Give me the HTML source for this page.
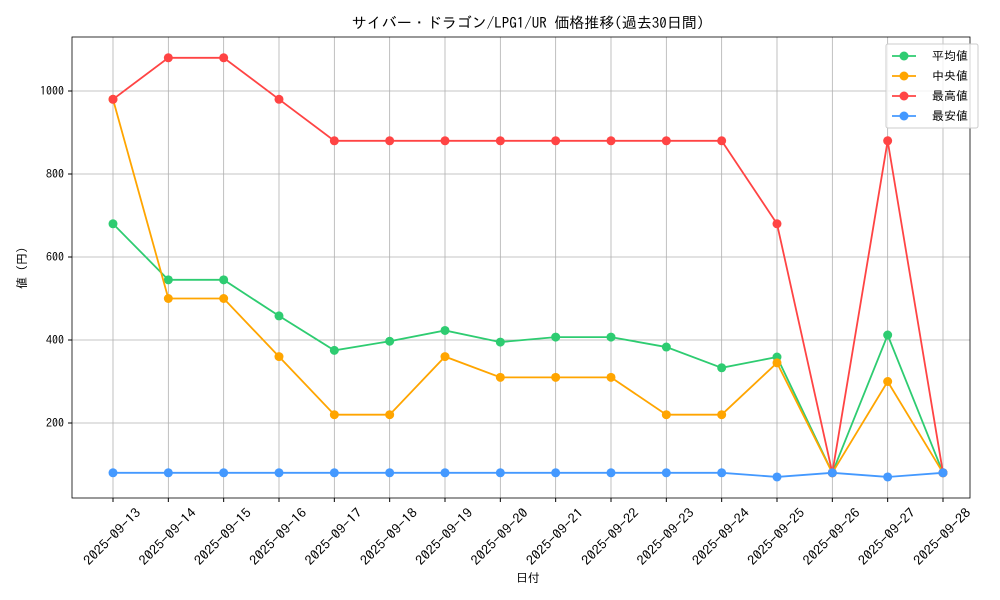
<!DOCTYPE html>
<html><head><meta charset="utf-8"><style>
html,body{margin:0;padding:0;background:#fff;}
svg{display:block;font-family:"IPAGothic","Liberation Sans",sans-serif;}
</style></head><body>
<svg width="1000" height="600" viewBox="0 0 1000 600" xmlns="http://www.w3.org/2000/svg">
<rect width="1000" height="600" fill="#fff"/>
<text x="528" y="28" font-size="15" text-anchor="middle" fill="#000">サイバー・ドラゴン/LPG1/UR 価格推移(過去30日間)</text>
<g id="grid" stroke="#b0b0b0" stroke-width="0.8"></g>
<rect x="72" y="37" width="898" height="461" fill="none" stroke="#000" stroke-width="0.8"/>
<g id="ticks" font-size="12" fill="#000"></g>
<text x="528" y="582" font-size="12" text-anchor="middle">日付</text>
<text x="26" y="268" font-size="12" text-anchor="middle" transform="rotate(-90 26 268)">値 (円)</text>
<g id="series"></g>
<g font-size="12">
<rect x="886" y="44" width="92" height="84" fill="#fff" fill-opacity="0.8" stroke="#ccc" rx="2"/>
<line x1="892" y1="56" x2="916" y2="56" stroke="#2ecc71" stroke-width="1.8"/><circle cx="904" cy="56" r="4.5" fill="#2ecc71"/><text x="932" y="60">平均値</text>
<line x1="892" y1="76" x2="916" y2="76" stroke="#ffa500" stroke-width="1.8"/><circle cx="904" cy="76" r="4.5" fill="#ffa500"/><text x="932" y="80">中央値</text>
<line x1="892" y1="96" x2="916" y2="96" stroke="#ff4444" stroke-width="1.8"/><circle cx="904" cy="96" r="4.5" fill="#ff4444"/><text x="932" y="100">最高値</text>
<line x1="892" y1="116" x2="916" y2="116" stroke="#4499ff" stroke-width="1.8"/><circle cx="904" cy="116" r="4.5" fill="#4499ff"/><text x="932" y="120">最安値</text>
</g>
</svg>
<script>
const ns="http://www.w3.org/2000/svg";
const X=i=>113+i*55.333, Y=v=>423-(v-200)*0.415;
const g=document.getElementById('grid'),t=document.getElementById('ticks'),s=document.getElementById('series');
function el(p,n,a,txt){const e=document.createElementNS(ns,n);for(const k in a)e.setAttribute(k,a[k]);if(txt)e.textContent=txt;p.appendChild(e);return e;}
for(let i=0;i<16;i++){const x=X(i);el(g,'line',{x1:x,y1:37,x2:x,y2:498});el(t,'line',{x1:x,y1:498,x2:x,y2:502,stroke:'#000'});
const d=(13+i);const cx=x-0.5,cy=537;el(t,'text',{x:cx,y:cy+4,'text-anchor':'middle','font-size':13,textLength:74,lengthAdjust:'spacingAndGlyphs',transform:`rotate(-45 ${cx} ${cy})`},'2025-09-'+d);}
for(let v=200;v<=1000;v+=200){const y=Y(v);el(g,'line',{x1:72,y1:y,x2:970,y2:y});el(t,'line',{x1:68,y1:y,x2:72,y2:y,stroke:'#000'});el(t,'text',{x:64,y:y+4,'text-anchor':'end'},String(v));}
const data=[
['#2ecc71',[680,545,545,458,375,397,423,395,407,407,383,333,359,80,412,80]],
['#ffa500',[980,500,500,360,220,220,360,310,310,310,220,220,345,80,300,80]],
['#ff4444',[980,1080,1080,980,880,880,880,880,880,880,880,880,680,80,880,80]],
['#4499ff',[80,80,80,80,80,80,80,80,80,80,80,80,70,80,70,80]]];
for(const [c,vs] of data){el(s,'polyline',{points:vs.map((v,i)=>X(i)+','+Y(v)).join(' '),fill:'none',stroke:c,'stroke-width':1.8});
vs.forEach((v,i)=>el(s,'circle',{cx:X(i),cy:Y(v),r:4.5,fill:c}));}
</script>
</body></html>
